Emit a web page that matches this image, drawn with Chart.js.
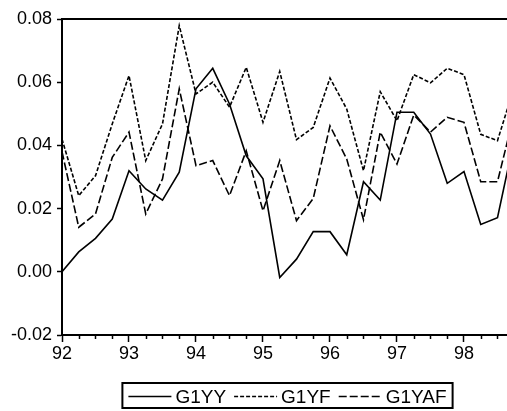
<!DOCTYPE html>
<html>
<head>
<meta charset="utf-8">
<script src="https://cdn.jsdelivr.net/npm/chart.js@4.4.1/dist/chart.umd.min.js"></script>
<style>
  html, body { margin: 0; padding: 0; background: #fff; overflow: hidden; }
  #wrap { width: 507px; height: 411px; }
</style>
</head>
<body>
<div id="wrap"><canvas id="chart" width="507" height="411"></canvas></div>
<script>
// quarterly periods 1992Q1 .. 1998Q4, as decimal years
const periods = [92, 92.25, 92.5, 92.75, 93, 93.25, 93.5, 93.75, 94, 94.25, 94.5, 94.75,
                 95, 95.25, 95.5, 95.75, 96, 96.25, 96.5, 96.75, 97, 97.25, 97.5, 97.75,
                 98, 98.25, 98.5, 98.75];

const g1yy  = [0.000, 0.0063, 0.0106, 0.0167, 0.0320, 0.0262, 0.0227, 0.0315, 0.0579, 0.0644, 0.0531, 0.0367,
               0.0294, -0.0018, 0.0040, 0.0127, 0.0127, 0.0054, 0.0285, 0.0227, 0.0505, 0.0505, 0.0436, 0.0280,
               0.0317, 0.0150, 0.0171, 0.0420];
const g1yf  = [0.0420, 0.0241, 0.0304, 0.0468, 0.0621, 0.0352, 0.0468, 0.0779, 0.0563, 0.0600, 0.0521, 0.0647,
               0.0473, 0.0634, 0.0418, 0.0457, 0.0613, 0.0515, 0.0320, 0.0570, 0.0478, 0.0624, 0.0598, 0.0644,
               0.0624, 0.0435, 0.0415, 0.0585];
const g1yaf = [0.0380, 0.0141, 0.0183, 0.0362, 0.0442, 0.0183, 0.0294, 0.0579, 0.0336, 0.0352, 0.0241, 0.0383,
               0.0193, 0.0352, 0.0162, 0.0232, 0.0462, 0.0357, 0.0165, 0.0442, 0.0341, 0.0496, 0.0442, 0.0489,
               0.0473, 0.0285, 0.0285, 0.0500];

const seriesNames = ['G1YY', 'G1YF', 'G1YAF'];
const seriesValues = [g1yy, g1yf, g1yaf];
const seriesDash = [[], [4, 2], [8, 3]];

const yMin = -0.02, yMax = 0.08, yStep = 0.02;
const xMin = 92, xMax = 98.642; // the plot is cut off on the right

const FONT = '"Liberation Sans", Arial, sans-serif';

function isYear(v) {
    return Math.abs(v - Math.round(v)) < 1e-6;
}

// top frame line
const topFrame = {
    id: 'topFrame',
    afterDraw(chart) {
        const { ctx, chartArea } = chart;
        ctx.save();
        ctx.strokeStyle = '#000';
        ctx.lineWidth = 2;
        ctx.beginPath();
        ctx.moveTo(chartArea.left - 1, chartArea.top);
        ctx.lineTo(chartArea.right, chartArea.top);
        ctx.stroke();
        ctx.restore();
    }
};

// short quarter ticks on the x axis
const minorTicks = {
    id: 'minorTicks',
    afterDraw(chart) {
        const { ctx } = chart;
        const xs = chart.scales.x;
        ctx.save();
        ctx.strokeStyle = '#000';
        ctx.lineWidth = 1.5;
        xs.ticks.forEach(t => {
            if (isYear(t.value)) return;
            const px = Math.round(xs.getPixelForValue(t.value)) + 0.5;
            ctx.beginPath();
            ctx.moveTo(px, xs.top);
            ctx.lineTo(px, xs.top + 4);
            ctx.stroke();
        });
        ctx.restore();
    }
};

// boxed legend under the axis
const legendBox = {
    id: 'legendBox',
    afterDraw(chart) {
        const ctx = chart.ctx;
        const sample = 43, gapText = 4, gapItem = 8, padX = 6;
        const top = 383, h = 25, cx = 287.5;
        ctx.save();
        ctx.font = '19px ' + FONT;
        const items = chart.data.datasets.map(ds => ({ ds, w: ctx.measureText(ds.label).width }));
        const total = padX * 2 + items.reduce((s, it) => s + sample + gapText + it.w, 0) + gapItem * (items.length - 1);
        let x = cx - total / 2;
        ctx.strokeStyle = '#000';
        ctx.lineWidth = 2;
        ctx.strokeRect(x, top, total, h);
        x += padX;
        const midY = top + h / 2 + 1;
        items.forEach(it => {
            ctx.lineWidth = 1.6;
            ctx.setLineDash(it.ds.borderDash || []);
            ctx.beginPath();
            ctx.moveTo(x, midY);
            ctx.lineTo(x + sample, midY);
            ctx.stroke();
            ctx.setLineDash([]);
            x += sample + gapText;
            ctx.fillStyle = '#000';
            ctx.textBaseline = 'middle';
            ctx.fillText(it.ds.label, x, midY + 1);
            x += it.w + gapItem;
        });
        ctx.restore();
    }
};

const ctx = document.getElementById('chart').getContext('2d');
const chart = new Chart(ctx, {
    type: 'line',
    data: {
        datasets: seriesNames.map((name, i) => ({
            label: name,
            data: periods.map((p, k) => ({ x: p, y: seriesValues[i][k] })),
            borderColor: '#000',
            borderWidth: 1.6,
            borderDash: seriesDash[i],
            pointRadius: 0,
            tension: 0,
            fill: false
        }))
    },
    options: {
        responsive: false,
        animation: false,
        devicePixelRatio: 1,
        layout: { padding: { top: 19, right: 0, bottom: 0, left: 0 } },
        plugins: {
            legend: { display: false },
            tooltip: { enabled: false }
        },
        scales: {
            x: {
                type: 'linear',
                min: xMin,
                max: xMax,
                afterFit: s => { s.height = 76; },
                border: { display: true, color: '#000', width: 2 },
                grid: {
                    drawOnChartArea: false,
                    drawTicks: true,
                    tickLength: 7,
                    tickWidth: 1.5,
                    tickColor: c => isYear(c.tick.value) ? '#000' : 'rgba(0,0,0,0)'
                },
                ticks: {
                    stepSize: 0.25,
                    includeBounds: false,
                    autoSkip: false,
                    maxRotation: 0,
                    padding: 1,
                    color: '#000',
                    font: { family: FONT, size: 18 },
                    callback: v => isYear(v) ? String(Math.round(v)) : ''
                }
            },
            y: {
                min: yMin,
                max: yMax,
                afterFit: s => { s.width = 62; },
                border: { display: true, color: '#000', width: 2 },
                grid: {
                    drawOnChartArea: false,
                    drawTicks: true,
                    tickLength: 5,
                    tickWidth: 1.5,
                    tickColor: '#000'
                },
                ticks: {
                    stepSize: yStep,
                    padding: 5,
                    color: '#000',
                    font: { family: FONT, size: 18 },
                    callback: v => v.toFixed(2)
                }
            }
        }
    },
    plugins: [topFrame, minorTicks, legendBox]
});
</script>
</body>
</html>
